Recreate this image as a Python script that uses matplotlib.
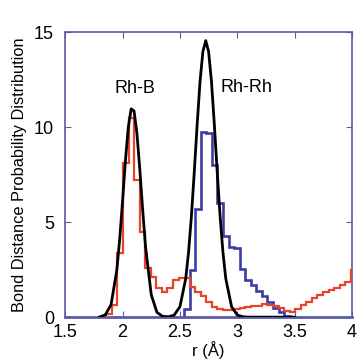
import numpy as np
import matplotlib
matplotlib.use("Agg")
import matplotlib.pyplot as plt

plt.rcParams['font.family'] = ['Liberation Sans', 'DejaVu Sans']

# histogram bins (shared grid), r in Angstrom
bin_start = 1.859
bin_width = 0.0484

# Rh-B bond distance histogram (red)
rhb_hist = [0.15, 0.65, 3.4, 8.1, 10.5, 7.2, 4.5, 2.6, 2.1, 1.55,
            1.3, 1.55, 1.95, 2.05, 2.05, 1.6, 1.3, 1.1, 0.8, 0.55,
            0.45, 0.4, 0.4, 0.45, 0.5, 0.55, 0.6, 0.6, 0.7, 0.65,
            0.6, 0.5, 0.35, 0.25, 0.45, 0.65, 0.8, 1.0, 1.15, 1.3,
            1.45, 1.55, 1.7, 1.85, 2.5]

# Rh-Rh bond distance histogram (blue), starts at bin 14
rhrh_first_bin = 14
rhrh_hist = [0.45, 2.5, 5.7, 9.75, 9.7, 8.0, 6.0, 4.25, 3.7, 3.65,
             2.55, 1.95, 1.7, 1.4, 1.1, 0.8, 0.5, 0.25, 0.05]

# fitted distribution (black)
fit_r = [1.80, 1.85, 1.90, 1.95, 1.975, 2.00, 2.025, 2.05, 2.075, 2.10,
         2.125, 2.15, 2.175, 2.20, 2.25, 2.30, 2.35, 2.40, 2.45, 2.50,
         2.55, 2.575, 2.60, 2.625, 2.65, 2.675, 2.70, 2.725, 2.75, 2.775,
         2.80, 2.825, 2.85, 2.875, 2.90, 2.95, 3.00, 3.05, 3.10, 3.50]
fit_p = [0.01, 0.12, 0.66, 2.47, 4.09, 6.10, 8.22, 9.99, 10.96, 10.85,
         9.69, 7.81, 5.68, 3.73, 1.18, 0.25, 0.04, 0.02, 0.11, 0.55,
         2.01, 3.40, 5.31, 7.63, 10.12, 12.38, 13.97, 14.55, 13.97, 12.38,
         10.12, 7.63, 5.31, 3.40, 2.01, 0.55, 0.11, 0.02, 0.0, 0.0]

edges_all = bin_start + bin_width * np.arange(len(rhb_hist) + 1)
rhrh_edges = edges_all[rhrh_first_bin:rhrh_first_bin + len(rhrh_hist) + 1]

frame = '#5a5aa8'

fig = plt.figure(figsize=(3.6, 3.6), dpi=100)
ax = fig.add_axes([0.181, 0.119, 0.797, 0.792])

ax.stairs(rhb_hist, edges_all, color='#e8442c', lw=1.6, zorder=3)
ax.stairs(rhrh_hist, rhrh_edges, color='#3c3ca4', lw=1.9, zorder=2)
ax.plot(fit_r, fit_p, color='black', lw=2.0, zorder=4)

ax.set_xlim(1.5, 4)
ax.set_ylim(0, 15)
ax.set_xticks([1.5, 2, 2.5, 3, 3.5, 4])
ax.set_xticklabels(['1.5', '2', '2.5', '3', '3.5', '4'])
ax.set_yticks([0, 5, 10, 15])

for s in ax.spines.values():
    s.set_color(frame)
    s.set_linewidth(1.2)
ax.spines['bottom'].set_linewidth(2.0)

ax.tick_params(direction='in', top=True, right=True, length=4,
               color=frame, labelsize=13)
ax.tick_params(axis='x', pad=5)
ax.tick_params(axis='y', pad=8)

ax.set_xlabel('r (Å)', fontsize=12, labelpad=0)
ax.set_ylabel('Bond Distance Probability Distribution', fontsize=11.8,
              labelpad=5)

ax.text(2.11, 12.05, 'Rh-B', fontsize=13, ha='center', va='center')
ax.text(3.08, 12.1, 'Rh-Rh', fontsize=13, ha='center', va='center')

fig.savefig('out.png', dpi=100)
